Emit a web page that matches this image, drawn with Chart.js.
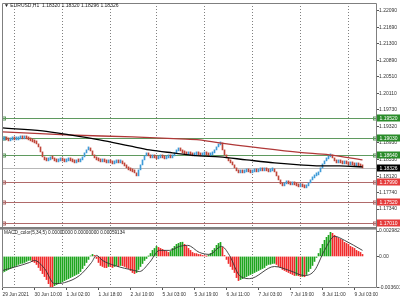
<!DOCTYPE html>
<html><head><meta charset="utf-8">
<script src="https://cdn.jsdelivr.net/npm/chart.js@4.4.0/dist/chart.umd.min.js"></script>
<style>
html,body{margin:0;padding:0;background:#fff;width:400px;height:300px;overflow:hidden;}
#c1{position:absolute;left:0;top:0;}
#c2{position:absolute;left:0;top:226px;}
</style></head><body>
<canvas id="c1" width="400" height="229"></canvas>
<canvas id="c2" width="400" height="74"></canvas>
<script>
const titleText = '\u25BC EURUSD,H1  1.18320 1.18320 1.18296 1.18326';
const macdTitleText = 'MACD_color(5,34,5) 0.00000000 0.00000000 0.00059134';
const firstOpen = 1.18990;
const closes = [
1.18996,1.19020,1.18996,1.18972,1.18996,1.19020,1.18996,1.18996,1.19020,1.19043,
1.19020,1.19043,1.19020,1.18996,1.18972,1.18948,1.18924,1.18900,1.18828,1.18708,
1.18589,1.18517,1.18493,1.18517,1.18565,1.18541,1.18493,1.18469,1.18493,1.18517,
1.18493,1.18469,1.18493,1.18517,1.18493,1.18469,1.18445,1.18493,1.18469,1.18517,
1.18589,1.18685,1.18756,1.18804,1.18732,1.18637,1.18565,1.18517,1.18493,1.18469,
1.18493,1.18469,1.18445,1.18469,1.18445,1.18421,1.18445,1.18469,1.18445,1.18469,
1.18421,1.18373,1.18326,1.18278,1.18254,1.18230,1.18206,1.18134,1.18278,1.18397,
1.18517,1.18613,1.18661,1.18613,1.18565,1.18589,1.18565,1.18541,1.18565,1.18589,
1.18565,1.18541,1.18565,1.18589,1.18565,1.18613,1.18685,1.18732,1.18756,1.18732,
1.18685,1.18661,1.18637,1.18661,1.18637,1.18613,1.18637,1.18661,1.18637,1.18613,
1.18637,1.18661,1.18637,1.18613,1.18637,1.18685,1.18756,1.18828,1.18876,1.18924,
1.18756,1.18637,1.18565,1.18493,1.18445,1.18397,1.18326,1.18254,1.18206,1.18230,
1.18206,1.18230,1.18254,1.18230,1.18206,1.18230,1.18254,1.18230,1.18254,1.18278,
1.18254,1.18278,1.18254,1.18230,1.18254,1.18278,1.18230,1.18134,1.18038,1.17943,
1.17895,1.17943,1.17967,1.17943,1.17919,1.17943,1.17919,1.17895,1.17871,1.17895,
1.17871,1.17847,1.17895,1.17967,1.18038,1.18086,1.18134,1.18158,1.18230,1.18326,
1.18421,1.18493,1.18541,1.18589,1.18637,1.18565,1.18493,1.18445,1.18469,1.18445,
1.18421,1.18445,1.18421,1.18397,1.18421,1.18397,1.18373,1.18397,1.18373,1.18349,
1.18326];
const fastMA = [[0,1.19283],[20,1.19211],[33.5,1.19115],[48.5,1.18996],[63.5,1.18852],[73.5,1.18756],[85,1.18685],[98.5,1.18613],[108.5,1.18589],[122,1.18517],[136,1.18445],[148.5,1.18397],[158.5,1.18373],[168.5,1.18373],[180,1.18349]];
const slowMA = [[0,1.19187],[32,1.19115],[65,1.19067],[88.5,1.19020],[98.5,1.18996],[108.5,1.18924],[128.5,1.18804],[148.5,1.18696],[163.5,1.18637],[180,1.18517]];
const macdHist = [
-0.00189,-0.00177,-0.00165,-0.00153,-0.00142,-0.00130,-0.00118,-0.00106,-0.00094,-0.00083,
-0.00080,-0.00071,-0.00059,-0.00047,-0.00045,-0.00059,-0.00071,-0.00094,-0.00130,-0.00165,
-0.00201,-0.00236,-0.00271,-0.00319,-0.00354,-0.00366,-0.00342,-0.00330,-0.00319,-0.00307,
-0.00295,-0.00283,-0.00271,-0.00260,-0.00248,-0.00236,-0.00224,-0.00212,-0.00201,-0.00177,
-0.00142,-0.00106,-0.00071,-0.00035,0.00005,0.00024,0.00012,-0.00024,-0.00071,-0.00106,
-0.00118,-0.00130,-0.00132,-0.00118,-0.00120,-0.00130,-0.00118,-0.00106,-0.00118,-0.00106,
-0.00108,-0.00118,-0.00130,-0.00142,-0.00165,-0.00189,-0.00201,-0.00189,-0.00153,-0.00118,
-0.00083,-0.00047,-0.00024,0.00002,0.00035,0.00071,0.00094,0.00118,0.00106,0.00094,
0.00083,0.00071,0.00059,0.00047,0.00059,0.00094,0.00118,0.00142,0.00153,0.00165,
0.00167,0.00142,0.00118,0.00094,0.00071,0.00047,0.00035,0.00033,0.00024,0.00022,
0.00012,0.00010,0.00002,0.00012,0.00035,0.00071,0.00094,0.00130,0.00153,0.00165,
0.00106,0.00012,-0.00035,-0.00083,-0.00118,-0.00153,-0.00189,-0.00248,-0.00283,-0.00271,
-0.00260,-0.00248,-0.00236,-0.00224,-0.00212,-0.00201,-0.00189,-0.00177,-0.00165,-0.00153,
-0.00142,-0.00130,-0.00106,-0.00094,-0.00092,-0.00083,-0.00081,-0.00094,-0.00118,-0.00130,
-0.00153,-0.00165,-0.00177,-0.00189,-0.00201,-0.00212,-0.00224,-0.00222,-0.00226,-0.00236,
-0.00234,-0.00238,-0.00212,-0.00177,-0.00142,-0.00106,-0.00059,-0.00012,0.00035,0.00094,
0.00142,0.00189,0.00224,0.00248,0.00283,0.00271,0.00248,0.00224,0.00212,0.00201,
0.00189,0.00165,0.00153,0.00142,0.00118,0.00106,0.00094,0.00071,0.00059,0.00047,
0.00024];
const macdSignal = [[0,-0.00165],[13.5,-0.00071],[16,-0.00047],[21,-0.00142],[26,-0.00319],[31,-0.00307],[38.5,-0.00224],[44.5,-0.00071],[47,0.00012],[50,-0.00047],[56,-0.00106],[66,-0.00165],[68.5,-0.00177],[73.5,-0.00071],[78.5,0.00071],[83.5,0.00071],[88.5,0.00118],[92.5,0.00130],[98.5,0.00047],[103.5,0.00024],[109.5,0.00118],[113.5,0.00012],[118.5,-0.00224],[123.5,-0.00260],[136,-0.00118],[143.5,-0.00165],[151,-0.00224],[156,-0.00165],[161,0.00071],[166,0.00236],[171,0.00189],[180,0.00071]];
const priceTicks = [1.22090,1.21690,1.21300,1.20890,1.20510,1.20110,1.19730,1.19320,1.18930,1.18530,1.18120,1.17740,1.17340];
const macdTicks = [0.0029823, 0, -0.003601];
const macdTickLabels = ['0.0029823', '0.00', '-0.003601'];
const timeLabelIdx = [0,16,32,48,64,80,96,112,128,144,160,176];
const timeLabels = ['29 Jun 2021','30 Jun 10:00','1 Jul 02:00','1 Jul 18:00','2 Jul 10:00','5 Jul 03:00','5 Jul 19:00','6 Jul 11:00','7 Jul 03:00','7 Jul 19:00','8 Jul 11:00','9 Jul 03:00'];
const dayBreakIdx = [6,30,54,77,101,125,149,173];
const greenLevels = [1.19520, 1.19030, 1.18640];
const redLevels = [1.17990, 1.17520, 1.17010];
const bidPrice = 1.18326;
const priceMin = 1.1691, priceMax = 1.22274;
const macdMin = -0.0037, macdMax = 0.0031;

const FONT = '"Liberation Sans", Arial, sans-serif';
const UP = '#3f9bd8', DOWN = '#c0463a';
const HG = '#1ea51e', HR = '#f02c2c';
const FRAME = '#7f7f7f';

const opens = closes.map((c, i) => i === 0 ? firstOpen : closes[i - 1]);
const candleData = closes.map((c, i) => ({x: i, y: [opens[i], c]}));
const candleColors = closes.map((c, i) => c >= opens[i] ? UP : DOWN);
const histData = macdHist.map((v, i) => ({x: i, y: v}));
const histColors = macdHist.map((v, i) => (i === 0 || v >= macdHist[i - 1]) ? HG : HR);

const xBase = {type: 'linear', min: -0.25, max: 187.25, offset: false};

function dottedGrid(chart) {
  const {ctx, chartArea: a, scales: {x}} = chart;
  ctx.save();
  ctx.strokeStyle = '#808080'; ctx.lineWidth = 1; ctx.setLineDash([1, 2]);
  dayBreakIdx.forEach(i => {
    const px = Math.floor(x.getPixelForValue(i)) + 0.5;
    ctx.beginPath(); ctx.moveTo(px, a.top); ctx.lineTo(px, a.bottom); ctx.stroke();
  });
  ctx.restore();
}

const pricePlugin = {
  id: 'pricePane',
  beforeDatasetsDraw(chart) {
    dottedGrid(chart);
    const {ctx, chartArea: a, scales: {y}} = chart;
    ctx.save();
    ctx.lineWidth = 1;
    const line = (v, col) => {
      const py = Math.round(y.getPixelForValue(v)) + 0.5;
      ctx.strokeStyle = col;
      ctx.beginPath(); ctx.moveTo(a.left, py); ctx.lineTo(a.right, py); ctx.stroke();
      ctx.strokeRect(a.left + 0.5, py - 1.5, 3, 3);
      ctx.strokeRect(a.right - 3.5, py - 1.5, 3, 3);
    };
    ctx.strokeStyle = '#b8b8b8';
    const bp = Math.round(y.getPixelForValue(bidPrice)) + 0.5;
    ctx.beginPath(); ctx.moveTo(a.left, bp); ctx.lineTo(a.right, bp); ctx.stroke();
    greenLevels.forEach(v => line(v, '#5f9a5f'));
    redLevels.forEach(v => line(v, '#b06a6a'));
    ctx.restore();
  },
  afterDraw(chart) {
    const {ctx, chartArea: a, scales: {y}} = chart;
    ctx.save();
    ctx.strokeStyle = FRAME; ctx.lineWidth = 1;
    ctx.beginPath();
    ctx.moveTo(a.left + 0.5, a.bottom); ctx.lineTo(a.left + 0.5, a.top + 0.5);
    ctx.lineTo(a.right - 0.5, a.top + 0.5); ctx.lineTo(a.right - 0.5, a.bottom);
    ctx.stroke();
    const box = (v, bg) => {
      const py = Math.round(y.getPixelForValue(v));
      ctx.fillStyle = bg; ctx.fillRect(a.right, py - 3.5, 400 - a.right, 7);
      ctx.fillStyle = '#fff'; ctx.font = '5px ' + FONT;
      ctx.textBaseline = 'middle'; ctx.textAlign = 'left';
      ctx.fillText(v.toFixed(5), a.right + 2.5, py + 0.3);
    };
    greenLevels.forEach(v => box(v, '#2a8c2a'));
    redLevels.forEach(v => box(v, '#e53b3b'));
    box(bidPrice, '#000');
    ctx.fillStyle = '#222'; ctx.font = '5px ' + FONT;
    ctx.textBaseline = 'middle'; ctx.textAlign = 'left';
    ctx.fillText(titleText, a.left + 2, 6);
    ctx.restore();
  }
};

const macdPlugin = {
  id: 'macdPane',
  beforeDatasetsDraw(chart) { dottedGrid(chart); },
  afterDraw(chart) {
    const {ctx, chartArea: a} = chart;
    ctx.save();
    ctx.fillStyle = FRAME;
    ctx.fillRect(0, 1, a.right, 2.6);
    ctx.strokeStyle = FRAME; ctx.lineWidth = 1;
    ctx.beginPath();
    ctx.moveTo(a.left + 0.5, a.top - 1); ctx.lineTo(a.left + 0.5, a.bottom - 0.5);
    ctx.lineTo(a.right - 0.5, a.bottom - 0.5); ctx.lineTo(a.right - 0.5, a.top - 1);
    ctx.stroke();
    ctx.fillStyle = '#222'; ctx.font = '4.7px ' + FONT;
    ctx.textBaseline = 'middle'; ctx.textAlign = 'left';
    ctx.fillText(macdTitleText, a.left + 2, a.top + 2.5);
    ctx.restore();
  }
};

const yTickFont = {size: 5, family: FONT, lineHeight: 0.8};
const common = {
  responsive: false, animation: false, events: [],
  plugins: {legend: {display: false}, tooltip: {enabled: false}}
};

new Chart(document.getElementById('c1'), {
  type: 'bar',
  data: {datasets: [
    {type: 'line', data: fastMA.map(([x, y]) => ({x, y})), borderColor: '#000', borderWidth: 1.3, pointRadius: 0, cubicInterpolationMode: 'monotone', order: 1},
    {type: 'line', data: slowMA.map(([x, y]) => ({x, y})), borderColor: '#b03838', borderWidth: 1.3, pointRadius: 0, cubicInterpolationMode: 'monotone', order: 2},
    {type: 'bar', data: candleData, backgroundColor: candleColors, barThickness: 1, minBarLength: 3, borderWidth: 0, order: 3}
  ]},
  options: Object.assign({}, common, {
    layout: {padding: {left: 2, top: 3, right: 0, bottom: 2}},
    scales: {
      x: Object.assign({}, xBase, {display: false, grid: {offset: false}}),
      y: {
        position: 'right', min: priceMin, max: priceMax,
        afterFit(s) { s.width = 23; },
        afterBuildTicks(s) { s.ticks = priceTicks.map(v => ({value: v})); },
        ticks: {callback: v => Number(v).toFixed(5), font: yTickFont, color: '#333', padding: 0, autoSkip: false},
        grid: {drawOnChartArea: false, drawTicks: true, tickLength: 2, color: '#555'},
        border: {display: false}
      }
    }
  }),
  plugins: [pricePlugin]
});

new Chart(document.getElementById('c2'), {
  type: 'bar',
  data: {datasets: [
    {type: 'line', data: macdSignal.map(([x, y]) => ({x, y})), borderColor: '#333', borderWidth: 0.9, pointRadius: 0, cubicInterpolationMode: 'monotone', order: 1},
    {type: 'bar', data: histData, backgroundColor: histColors, barThickness: 1, borderWidth: 0, order: 2}
  ]},
  options: Object.assign({}, common, {
    layout: {padding: {left: 2, top: 4, right: 0, bottom: 0}},
    scales: {
      x: Object.assign({}, xBase, {
        position: 'bottom',
        afterFit(s) { s.height = 12; },
        afterBuildTicks(s) { s.ticks = timeLabelIdx.map(v => ({value: v})); },
        ticks: {callback: v => timeLabels[timeLabelIdx.indexOf(v)], align: 'start', font: {size: 4.8, family: FONT}, color: '#333', padding: 1.5, autoSkip: false, maxRotation: 0, minRotation: 0},
        grid: {drawOnChartArea: false, drawTicks: true, tickLength: 2, color: '#555', offset: false},
        border: {display: false}
      }),
      y: {
        position: 'right', min: macdMin, max: macdMax,
        afterFit(s) { s.width = 23; },
        afterBuildTicks(s) { s.ticks = macdTicks.map(v => ({value: v})); },
        ticks: {callback: v => macdTickLabels[macdTicks.indexOf(v)], font: yTickFont, color: '#333', padding: 0, autoSkip: false},
        grid: {drawOnChartArea: false, drawTicks: true, tickLength: 2, color: '#555'},
        border: {display: false}
      }
    }
  }),
  plugins: [macdPlugin]
});
</script>
</body></html>
